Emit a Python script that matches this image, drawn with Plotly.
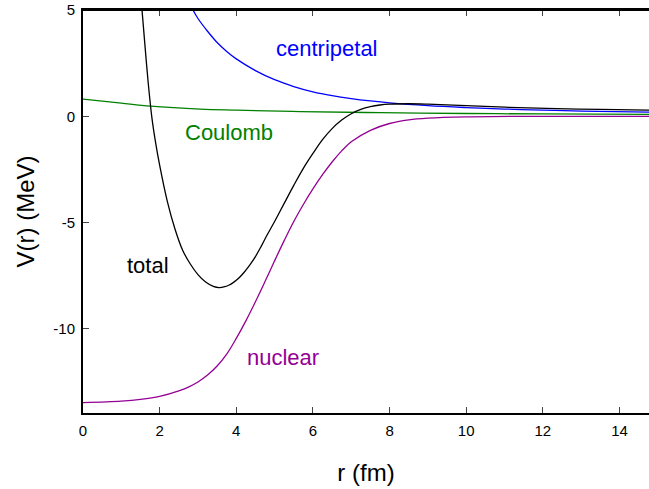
import plotly.graph_objects as go

# r (fm), V (MeV)
nuclear_r = [0, 1.0, 1.5, 2.0, 2.5, 2.75, 3.0, 3.25, 3.5, 3.75, 4.0, 4.25, 4.5, 4.75, 5.0, 5.25, 5.5, 5.75, 6.0, 6.25,
             6.5, 6.75, 7.0, 7.5, 8.0, 8.5, 9.0, 10.0, 12.0, 14.8]
nuclear_v = [-13.47, -13.40, -13.32, -13.18, -12.92, -12.74, -12.5, -12.175, -11.75, -11.19, -10.45, -9.625, -8.725,
             -7.775, -6.8, -5.85, -4.95, -4.15, -3.42, -2.75, -2.15, -1.63, -1.2, -0.66, -0.34, -0.17, -0.09, -0.03,
             0.0, 0.0]

coulomb_r = [0, 1.0, 1.76, 3.06, 4.0, 5.67, 7.76, 10.0, 12.0, 14.8]
coulomb_v = [0.81, 0.62, 0.48, 0.34, 0.29, 0.22, 0.17, 0.13, 0.11, 0.09]

centripetal_r = [2.87, 3.0, 3.25, 3.5, 3.75, 4.0, 4.5, 5.0, 5.5, 6.0, 6.5, 7.0, 7.5, 8.0, 9.0, 10.0, 11.0, 12.0, 13.0, 14.8]
centripetal_v = [5.0, 4.6, 4.0, 3.47, 3.05, 2.7, 2.15, 1.72, 1.4, 1.15, 0.97, 0.83, 0.72, 0.63, 0.5, 0.41, 0.34, 0.29, 0.245, 0.19]

total_r = [1.54, 1.6, 1.7, 1.8, 1.9, 2.0, 2.2, 2.4, 2.6, 2.8, 3.0, 3.2, 3.4, 3.55, 3.7, 3.8, 3.9, 4.0, 4.1, 4.2, 4.35,
           4.5, 4.65, 4.8, 5.0, 5.25, 5.5, 5.75, 6.0, 6.25, 6.5, 6.75, 7.0, 7.25, 7.5, 7.75, 8.0, 8.5, 9.0, 10.0, 11.0,
           12.1, 13.5, 14.8]
total_v = [5.0, 3.7, 1.6, -0.1, -1.3, -2.3, -4.0, -5.3, -6.3, -6.95, -7.45, -7.8, -8.0, -8.06, -8.02, -7.95, -7.85,
           -7.72, -7.55, -7.35, -7.0, -6.6, -6.12, -5.6, -4.95, -4.1, -3.25, -2.45, -1.75, -1.1, -0.58, -0.18, 0.12,
           0.32, 0.45, 0.53, 0.57, 0.59, 0.57, 0.5, 0.43, 0.37, 0.32, 0.29]

x_ticks = [0, 2, 4, 6, 8, 10, 12, 14]
y_ticks = [5, 0, -5, -10]
y_tick_text = ["5", "0", "-5", "-10"]

BLUE = "#0000ff"
GREEN = "#008000"
PURPLE = "#940094"
BLACK = "#000000"

fig = go.Figure()
for xs, ys, col in [(coulomb_r, coulomb_v, GREEN), (centripetal_r, centripetal_v, BLUE),
                    (nuclear_r, nuclear_v, PURPLE), (total_r, total_v, BLACK)]:
    fig.add_trace(go.Scatter(x=xs, y=ys, mode="lines", line=dict(color=col, width=1.3, shape="spline", smoothing=1.0),
                             showlegend=False, hoverinfo="skip", cliponaxis=True))

font = "Liberation Sans, Arial, sans-serif"
labels = [("centripetal", 6.37, 3.2, BLUE), ("Coulomb", 3.82, -0.74, GREEN),
          ("total", 1.7, -7.0, BLACK), ("nuclear", 5.23, -11.36, PURPLE)]
for t, x, y, c in labels:
    fig.add_annotation(x=x, y=y, text=t, showarrow=False, font=dict(family=font, size=22, color=c),
                       xanchor="center", yanchor="middle")

# top frame line
fig.add_shape(type="line", xref="paper", yref="paper", x0=0, x1=1, y0=1, y1=1,
              line=dict(color="black", width=2), layer="above")

fig.update_layout(
    width=649, height=489,
    margin=dict(l=83, r=0, t=10, b=76, autoexpand=False),
    paper_bgcolor="white", plot_bgcolor="white",
    font=dict(family=font, color="black"),
    xaxis=dict(range=[0, 14.77], tickvals=x_ticks, ticks="inside", ticklen=6, tickwidth=1.3, automargin=False,
               showline=True, linewidth=2, linecolor="black", mirror="ticks", showgrid=False, zeroline=False,
               ticklabelstandoff=3,
               tickfont=dict(size=15), title=dict(text="r (fm)", font=dict(size=24), standoff=26)),
    yaxis=dict(range=[-13.96, 5], tickvals=y_ticks, ticktext=y_tick_text, ticks="inside", ticklen=6, tickwidth=1.3,
               automargin=False, ticklabelstandoff=3,
               showline=True, linewidth=2, linecolor="black", mirror=False, showgrid=False, zeroline=False,
               tickfont=dict(size=15), title=dict(text="V(r) (MeV)", font=dict(size=24), standoff=12)),
)

fig.write_html("out.html", config={"displayModeBar": False},
               post_script="document.body.style.margin='0';document.body.style.overflow='hidden';")
